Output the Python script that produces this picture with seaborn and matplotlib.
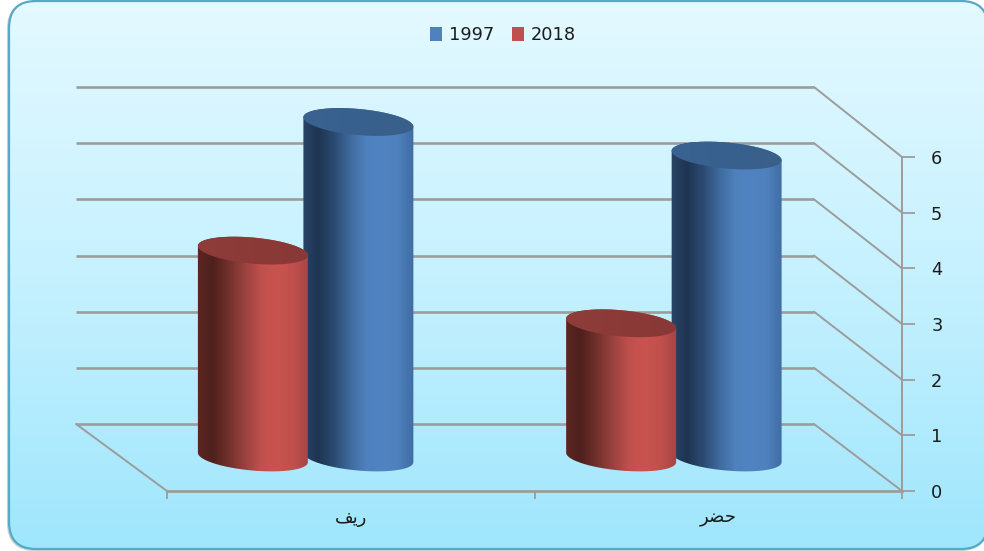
import matplotlib
matplotlib.use('Agg')
import matplotlib.pyplot as plt
import numpy as np
import pandas as pd
import seaborn as sns
from matplotlib.colors import LinearSegmentedColormap
from matplotlib.patches import FancyBboxPatch, Patch
from matplotlib.path import Path

areas = ['ريف', 'حضر']
years = ['1997', '2018']
values_1997 = [6.0, 5.4]
values_2018 = [3.7, 2.4]
y_ticks = [0, 1, 2, 3, 4, 5, 6]

# matplotlib does not shape arabic, so joined forms in visual order
area_labels = {'ريف': '\ufed2\ufef3\ufead', 'حضر': '\ufeae\ufec0\ufea3'}

W, H = 984, 551
GRID = '#9c9c9c'
TEXT = '#1c1c1c'
# body gradients, dark on the left like the old office cylinders
body_colors = {
    '1997': ['#2a4568', '#1f3452', '#2b4a72', '#3f6a9c', '#4f81bd', '#5083c2', '#4f81bd', '#3f6ca3'],
    '2018': ['#5c2622', '#4f201d', '#74302c', '#994240', '#c0504d', '#c9544f', '#c0504d', '#a84542'],
}
cap_colors = {'1997': ['#3a6391', '#37608e', '#3a6089'], '2018': ['#8f3d3a', '#8b3a37', '#883836']}
legend_colors = {'1997': '#4f81bd', '2018': '#c0504d'}

sns.set_style('white')
plt.rcParams['font.family'] = ['DejaVu Sans']

df = pd.DataFrame({
    'area': areas * 2,
    'year': [years[0]] * len(areas) + [years[1]] * len(areas),
    'value': values_1997 + values_2018,
})

fig = plt.figure(figsize=(W / 100, H / 100), dpi=100)
fig.patch.set_facecolor('white')

# panel background
bg = fig.add_axes([0, 0, 1, 1], zorder=0)
bg.set_xlim(0, W)
bg.set_ylim(H, 0)
bg.axis('off')
panel_cmap = LinearSegmentedColormap.from_list('panel', ['#e4f9ff', '#c6f1ff', '#9fe6fd'])
box = dict(boxstyle='round,pad=27,rounding_size=27')
# a nearly clear face stops agg clipping the curves at the canvas edge
shadow = FancyBboxPatch((8 + 27, 2 + 27), 979 - 54, 548 - 54, facecolor=(1, 1, 1, 0.004), edgecolor='#d4d4d4',
                        lw=1.6, zorder=0, **box)
panel = FancyBboxPatch((9 + 27, 1 + 27), 979 - 54, 548 - 54, facecolor=(1, 1, 1, 0.004), edgecolor='#55abc6',
                       lw=1.6, zorder=3, **box)
bg.add_patch(shadow)
bg.add_patch(panel)
im = bg.imshow(np.linspace(0, 1, 256)[:, None], extent=(0, W, H, 0), cmap=panel_cmap, aspect='auto', zorder=1)
im.set_clip_path(panel)
bg.set_xlim(0, W)
bg.set_ylim(H, 0)

# main axes, front edge of the floor
ax = fig.add_axes([167 / W, 1 - 491 / H, 735 / W, 334 / H], zorder=1)
ax.patch.set_visible(False)
sns.barplot(data=df, x='area', y='value', hue='year', order=areas, hue_order=years[::-1],
            width=0.573, legend=False, ax=ax)
ax.set_xlim(-0.5, 1.5)
ax.set_ylim(0, 6)
ax.set_xlabel('')
ax.set_ylabel('')

ax.yaxis.tick_right()
ax.set_yticks(y_ticks)
ax.tick_params(axis='y', length=9, width=1.3, color=GRID, labelsize=12.8, labelcolor=TEXT, pad=12, right=True, left=False)
ax.set_xticks(range(len(areas)))
ax.set_xticklabels([area_labels[a] for a in areas])
ax.set_xticks([-0.5, 0.5, 1.5], minor=True)
ax.tick_params(axis='x', which='major', length=0, labelsize=13, labelcolor=TEXT, pad=13, bottom=False)
ax.tick_params(axis='x', which='minor', length=6, width=1.3, color=GRID, bottom=True)
for s in ['top', 'left']:
    ax.spines[s].set_visible(False)
ax.spines['right'].set_color(GRID)
ax.spines['right'].set_linewidth(1.4)
ax.spines['bottom'].set_color(GRID)
ax.spines['bottom'].set_linewidth(2)


def depth_point(x, v, d):
    """display coords of a data point pushed back by d (0 front, 1 back wall)"""
    px, py = ax.transData.transform((x, v))
    return px - d * (91 - 1.5 * (x + 0.5)), py + d * (67 + 0.5 * v)


# top layer in pixel coords for the cylinders and the walls
top = fig.add_axes([0, 0, 1, 1], zorder=2)
top.patch.set_visible(False)
top.axis('off')
top.set_xlim(0, W)
top.set_ylim(H, 0)


def to_top(p):
    return top.transData.inverted().transform(p)


for v in y_ticks:
    a = to_top(depth_point(-0.5, v, 1))
    b = to_top(depth_point(1.5, v, 1))
    c = to_top(depth_point(1.5, v, 0))
    top.plot([a[0], b[0]], [a[1], b[1]], color=GRID, lw=1.9, zorder=1, solid_capstyle='butt')
    top.plot([b[0], c[0]], [b[1], c[1]], color=GRID, lw=1.4, zorder=1)
a = to_top(depth_point(-0.5, 0, 1))
c = to_top(depth_point(-0.5, 0, 0))
top.plot([a[0], c[0]], [a[1], c[1]], color=GRID, lw=1.4, zorder=1)

TILT = np.radians(5.2)
RX = 55.2
RY = 13.0


def ellipse(cx, cy, t):
    xs = cx + RX * np.cos(t) * np.cos(TILT) - RY * np.sin(t) * np.sin(TILT)
    ys = cy + RX * np.cos(t) * np.sin(TILT) + RY * np.sin(t) * np.cos(TILT)
    return np.column_stack([xs, ys])


def gradient_fill(verts, colors, box, z):
    cmap = LinearSegmentedColormap.from_list('g', colors)
    img = top.imshow(np.linspace(0, 1, 256)[None, :], extent=box, cmap=cmap, aspect='auto', zorder=z,
                     interpolation='bilinear')
    img.set_clip_path(Path(np.vstack([verts, verts[:1]]), closed=True), top.transData)


# bars come from seaborn, the cylinders are painted over their positions
for z, year in enumerate(years):
    container = ax.containers[years[::-1].index(year)]
    for bar in container:
        bar.set_visible(False)
        cx_data = bar.get_x() + bar.get_width() / 2
        cx, base_y = to_top(depth_point(cx_data, 0, 0.5))
        _, top_y = to_top(depth_point(cx_data, bar.get_height(), 0.5))
        lower = ellipse(cx, base_y, np.linspace(np.pi, 0, 60))
        upper = ellipse(cx, top_y, np.linspace(0, -np.pi, 60))
        left, right = cx - 56, cx + 56
        gradient_fill(np.vstack([lower, upper]), body_colors[year], (left, right, base_y + 20, top_y - 20), 2 + z * 2)
        cap = ellipse(cx, top_y, np.linspace(0, 2 * np.pi, 120))
        gradient_fill(cap, cap_colors[year], (left, right, top_y + 20, top_y - 20), 3 + z * 2)
top.set_xlim(0, W)
top.set_ylim(H, 0)

handles = [Patch(facecolor=legend_colors[y], edgecolor='none', label=y) for y in years]
fig.legend(handles=handles, loc='center', bbox_to_anchor=(503 / W, 1 - 35 / H), ncol=2, frameon=False,
           fontsize=12.8, labelcolor=TEXT, handlelength=0.65, handleheight=0.8, handletextpad=0.4,
           columnspacing=1.0, borderpad=0)

fig.savefig('out.png', dpi=100, facecolor='white')
